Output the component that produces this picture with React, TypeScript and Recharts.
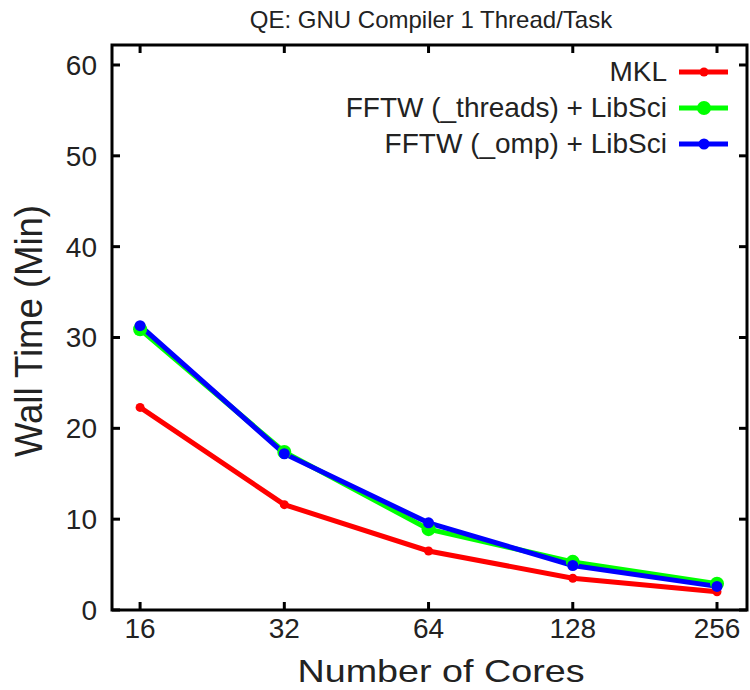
import React from 'react';
import { LineChart, Line, XAxis, YAxis, ReferenceArea, Legend, Label } from 'recharts';

const cores = [16, 32, 64, 128, 256];
const mkl = [22.3, 11.6, 6.5, 3.5, 2.0];
const fftwThreads = [30.9, 17.4, 8.9, 5.3, 2.9];
const fftwOmp = [31.3, 17.2, 9.6, 4.9, 2.6];
const yTicks = [0, 10, 20, 30, 40, 50, 60];

const title = 'QE: GNU Compiler 1 Thread/Task';
const xLabel = 'Number of Cores';
const yLabel = 'Wall Time (Min)';

const series = [
  { key: 'mkl', name: 'MKL', color: '#ff0000', r: 4.5 },
  { key: 'threads', name: 'FFTW (_threads) + LibSci', color: '#00ff00', r: 7 },
  { key: 'omp', name: 'FFTW (_omp) + LibSci', color: '#0000ff', r: 5.5 },
];

const data = cores.map((c, i) => ({ cores: c, mkl: mkl[i], threads: fftwThreads[i], omp: fftwOmp[i] }));

const W = 750;
const H = 690;
const PLOT_LEFT = 112;
const PLOT_RIGHT = 747;
const PLOT_TOP = 45;
const PLOT_BOTTOM = 610;
const X_DOMAIN: [number, number] = [13.98, 295.7];
const Y_DOMAIN: [number, number] = [0, 62.2];
const FONT = '"Liberation Sans", Arial, Helvetica, sans-serif';
const TEXT = '#222';

const XTick = (props: any) => {
  const { x, y, payload } = props;
  return (
    <g>
      <line x1={x} x2={x} y1={y} y2={y - 8} stroke="#000" strokeWidth={3} />
      <line x1={x} x2={x} y1={PLOT_TOP} y2={PLOT_TOP + 8} stroke="#000" strokeWidth={3} />
      <text x={x} y={y + 28} textAnchor="middle" fontSize={28} fontFamily={FONT} fill={TEXT}>
        {payload.value}
      </text>
    </g>
  );
};

const YTick = (props: any) => {
  const { x, y, payload } = props;
  return (
    <g>
      <line x1={x} x2={x + 8} y1={y} y2={y} stroke="#000" strokeWidth={3} />
      <line x1={PLOT_RIGHT - 8} x2={PLOT_RIGHT} y1={y} y2={y} stroke="#000" strokeWidth={3} />
      <text x={x - 15} y={y + 10} textAnchor="end" fontSize={28} fontFamily={FONT} fill={TEXT}>
        {payload.value}
      </text>
    </g>
  );
};

const LegendContent = () => (
  <div style={{ fontFamily: FONT, fontSize: 28, color: TEXT }}>
    {series.map((s) => (
      <div key={s.key} style={{ display: 'flex', justifyContent: 'flex-end', alignItems: 'center', height: 36 }}>
        <span style={{ lineHeight: '36px' }}>{s.name}</span>
        <svg width={51} height={20} style={{ marginLeft: 12 }}>
          <line x1={0} x2={49} y1={10} y2={10} stroke={s.color} strokeWidth={5} />
          <circle cx={25} cy={10} r={s.r} fill={s.color} />
        </svg>
      </div>
    ))}
  </div>
);

export default function App() {
  return (
    <div style={{ position: 'absolute', left: 0, top: 0, width: W, height: H, background: '#fff' }}>
      <div
        style={{
          position: 'absolute',
          left: 0,
          width: 862,
          top: 6,
          textAlign: 'center',
          fontFamily: FONT,
          fontSize: 24,
          color: TEXT,
          zIndex: 2,
        }}
      >
        {title}
      </div>
      <LineChart
        width={W}
        height={H}
        data={data}
        margin={{ top: PLOT_TOP, right: W - PLOT_RIGHT, bottom: 0, left: 32 }}
      >
        <XAxis
          dataKey="cores"
          type="number"
          scale="log"
          domain={X_DOMAIN}
          ticks={cores}
          allowDataOverflow
          axisLine={false}
          tickLine={false}
          tickSize={0}
          tickMargin={0}
          height={H - PLOT_BOTTOM}
          tick={<XTick />}
          interval={0}
        >
          <Label
            content={() => (
              <text x={441} y={682} textAnchor="middle" fontSize={32} textLength={287} lengthAdjust="spacingAndGlyphs" fontFamily={FONT} fill={TEXT}>
                {xLabel}
              </text>
            )}
          />
        </XAxis>
        <YAxis
          type="number"
          domain={Y_DOMAIN}
          ticks={yTicks}
          allowDataOverflow
          axisLine={false}
          tickLine={false}
          tickSize={0}
          tickMargin={0}
          width={PLOT_LEFT - 32}
          tick={<YTick />}
          interval={0}
        >
          <Label
            content={() => (
              <text
                x={42}
                y={331}
                transform="rotate(-90 42 331)"
                textAnchor="middle"
                fontSize={39}
                textLength={252}
                lengthAdjust="spacingAndGlyphs"
                fontFamily={FONT}
                fill={TEXT}
              >
                {yLabel}
              </text>
            )}
          />
        </YAxis>
        <ReferenceArea
          x1={X_DOMAIN[0]}
          x2={X_DOMAIN[1]}
          y1={Y_DOMAIN[0]}
          y2={Y_DOMAIN[1]}
          fill="none"
          fillOpacity={0}
          stroke="#000"
          strokeWidth={3}
          ifOverflow="visible"
        />
        {series.map((s) => (
          <Line
            key={s.key}
            dataKey={s.key}
            name={s.name}
            stroke={s.color}
            strokeWidth={5}
            dot={{ r: s.r, fill: s.color, stroke: s.color, strokeWidth: 0 }}
            activeDot={false}
            isAnimationActive={false}
          />
        ))}
        <Legend
          layout="vertical"
          align="center"
          verticalAlign="middle"
          wrapperStyle={{ top: 54, right: 20, left: 'auto', width: 'auto' }}
          content={<LegendContent />}
        />
      </LineChart>
    </div>
  );
}
